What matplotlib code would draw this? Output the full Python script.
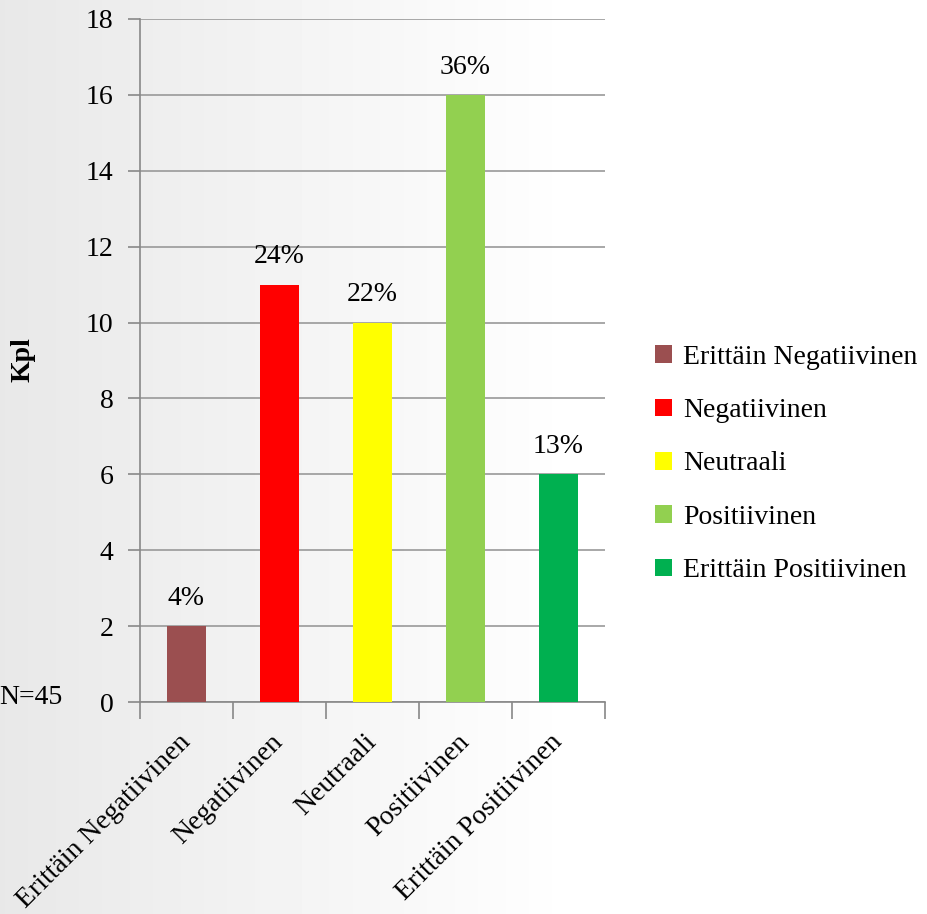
import numpy as np
import matplotlib.pyplot as plt
from matplotlib.patches import Patch

# Data
categories = ['Erittäin Negatiivinen', 'Negatiivinen', 'Neutraali', 'Positiivinen', 'Erittäin Positiivinen']
counts = [2, 11, 10, 16, 6]
percents = ['4%', '24%', '22%', '36%', '13%']
colors = ['#9B4F50', '#FF0000', '#FFFF00', '#92D050', '#00B050']

plt.rcParams['font.family'] = ['Liberation Serif', 'DejaVu Serif']
FS = 20

fig = plt.figure(figsize=(9.28, 9.14), dpi=100)

# soft gray gradient behind everything
bg = fig.add_axes([0, 0, 1, 1], zorder=-10)
gx = np.linspace(0, 1, 200)
gy = np.linspace(0, 1, 200)
GX, GY = np.meshgrid(gx, gy)
shade = 0.91 + 0.09 * np.clip(GX * 1.6, 0, 1)
bg.imshow(shade, cmap='gray', vmin=0, vmax=1, aspect='auto', extent=[0, 1, 0, 1])
bg.axis('off')

ax = fig.add_axes([140/928, 1 - 702/914, 465/928, 683/914])
ax.patch.set_alpha(0)

x = np.arange(len(categories))
ax.bar(x, counts, width=0.41, color=colors, zorder=3)

for xi, c, p in zip(x, counts, percents):
    ax.text(xi, c + 0.4, p, ha='center', va='bottom', fontsize=FS)

ax.set_xlim(-0.5, len(categories) - 0.5)
ax.set_ylim(0, 18)
ax.set_yticks(range(0, 19, 2))
ax.tick_params(axis='y', labelsize=FS, length=9, color='#888888', width=1.2, pad=10)
ax.yaxis.grid(True, color='#999999', linewidth=1.2, zorder=0)
ax.set_axisbelow(True)

ax.set_xticks(np.arange(-0.5, len(categories), 1.0))
ax.set_xticklabels([])
ax.set_xticks(x, minor=True)
ax.set_xticklabels(categories, minor=True, rotation=45, ha='right', va='center',
                   rotation_mode='anchor', fontsize=FS)
ax.tick_params(axis='x', which='major', length=12, color='#888888', width=1.2)
ax.tick_params(axis='x', which='minor', length=0, pad=26)

for s in ['top', 'right']:
    ax.spines[s].set_visible(False)
for s in ['left', 'bottom']:
    ax.spines[s].set_color('#888888')
    ax.spines[s].set_linewidth(1.2)

ax.set_ylabel('Kpl', fontsize=FS, fontweight='bold')
ax.yaxis.set_label_coords((36 - 140) / 465, (702 - 360) / 683)
fig.text(62/928, 1 - 697/914, 'N=45', ha='right', va='center', fontsize=FS)

handles = [Patch(facecolor=c) for c in colors]
fig.legend(handles, categories, loc='center left', bbox_to_anchor=(630/928, 1 - 464/914),
           frameon=False, fontsize=FS, handlelength=0.6, handleheight=0.6,
           handletextpad=0.4, labelspacing=1.02)

fig.savefig('out.png', dpi=100)
